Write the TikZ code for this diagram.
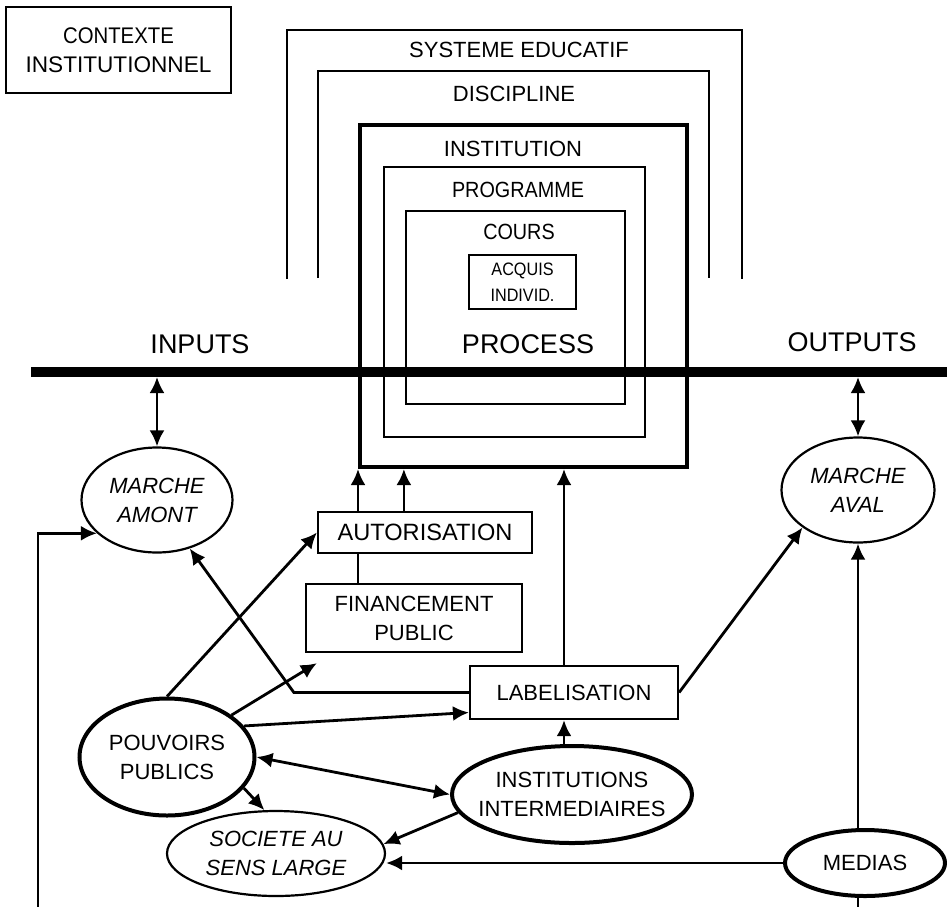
\documentclass[tikz,border=0pt]{standalone}
\usepackage{fontspec}
\setmainfont{Liberation Sans}
\newfontfamily\narrowfont[FakeStretch=0.9]{Liberation Sans}
\usetikzlibrary{arrows.meta,shapes.geometric,positioning}
\tikzset{
	lbl/.style={font=\fontsize{11}{14.5}\selectfont, align=center},
	big/.style={font=\fontsize{13.5}{16}\selectfont},
	itl/.style={font=\fontsize{11}{14.5}\selectfont\itshape, align=center},
	frame/.style={line width=1.1pt},
	boxnode/.style={draw, lbl, line width=1.1pt, inner sep=0pt},
	oval/.style={draw, ellipse, inner sep=-14pt, line width=1.1pt},
	arr/.style={-{Latex[length=8pt,width=7.5pt]}, line width=1.4pt},
	arr2/.style={{Latex[length=8pt,width=7.5pt]}-{Latex[length=8pt,width=7.5pt]}, line width=1.4pt},
	lin/.style={line width=1.2pt}
}
\begin{document}
\begin{tikzpicture}[x=0.5pt, y=-0.5pt]
				\useasboundingbox (0,0) rectangle (947,906);
				\node (ctx) [boxnode, minimum width=112.5pt, minimum height=43pt, font=\fontsize{11.3}{14.5}\selectfont] at (118.5,50) {{\narrowfont CONTEXTE}\\INSTITUTIONNEL};
				\draw[frame] (287,279) |- (742,30) -- (742,279);
				\draw[frame] (318,278) |- (709,71) -- (709,278);
				\node (inst) [draw, line width=2pt, minimum width=163.5pt, minimum height=171pt] at (523.5,296) {};
				\draw[frame] (384,167) rectangle (645,437);
				\draw[frame] (406,211) rectangle (625,404);
				\node (sysl) [lbl] at (519,50) {SYSTEME EDUCATIF};
				\node (discl) [lbl] at (514,94) {DISCIPLINE};
				\node (instl) [lbl] at (513,149) {INSTITUTION};
				\node (progl) [lbl, font=\narrowfont\fontsize{11}{14.5}\selectfont] at (518,190) {PROGRAMME};
				\node (coursl) [lbl, font=\narrowfont\fontsize{11}{14.5}\selectfont] at (519,232) {COURS};
				\node (acq) [boxnode, minimum width=53.5pt, minimum height=27pt, font=\narrowfont\fontsize{9}{13}\selectfont] at (522.5,282) {ACQUIS\\INDIVID.};
				\node (inp) [big] at (200,344) {INPUTS};
				\node (proc) [big] at (528,344) {PROCESS};
				\node (outp) [big] at (852,342) {OUTPUTS};
				\coordinate (barl) at (31,372);
				\coordinate (barr) at (947,372);
				\coordinate (bar) at (0,377);
				\draw[line width=5pt] (barl) -- (barr);
				\node (mam) [oval, itl, minimum width=75.5pt, minimum height=52.5pt] at (157,500) {MARCHE\\AMONT};
				\node (mav) [oval, itl, minimum width=76.5pt, minimum height=52.5pt] at (858,490) {MARCHE\\AVAL};
				\node (aut) [boxnode, minimum width=107pt, minimum height=20.5pt, font=\fontsize{11.8}{14.5}\selectfont] at (425,532.5) {AUTORISATION};
				\node (fin) [boxnode, minimum width=108pt, minimum height=34pt] at (414,618) {FINANCEMENT\\PUBLIC};
				\node (lab) [boxnode, minimum width=104pt, minimum height=26.5pt] at (574,692.5) {LABELISATION};
				\node (pp) [oval, lbl, line width=2pt, minimum width=87.5pt, minimum height=58.5pt] at (167,757) {POUVOIRS\\PUBLICS};
				\node (ii) [oval, lbl, line width=2pt, minimum width=120pt, minimum height=48.5pt] at (572,794.5) {INSTITUTIONS\\INTERMEDIAIRES};
				\node (soc) [oval, itl, minimum width=109pt, minimum height=42.5pt] at (276,853.5) {SOCIETE AU\\SENS LARGE};
				\node (med) [oval, lbl, line width=2pt, minimum width=80pt, minimum height=33pt] at (865,863) {MEDIAS};
				\coordinate (lb) at (38,910);
				\coordinate (mb) at (0,910);
				\draw[arr2] (mam.north |- bar) -- (mam.north);
				\draw[arr2] (mav.north |- bar) -- (mav.north);
				\draw[lin] (fin.north -| inst.south west) -- (aut.south -| inst.south west);
				\draw[arr] (aut.north -| inst.south west) -- (inst.south west);
				\draw[arr] ([xshift=43.5pt]aut.north west) -- ([xshift=43.5pt]aut.north west |- inst.south);
				\draw[arr] ([xshift=-5pt]lab.north) -- ([xshift=-5pt]lab.north |- inst.south);
				\draw[arr] ([xshift=-4pt]ii.north) -- ([xshift=-4pt]ii.north |- lab.south);
				\draw[arr] (lab.west) -- +(-87.5pt,0) -- (mam.-56);
				\draw[arr] (lab.east) -- (mav.214);
				\draw[arr] (pp.north) -- (aut.west);
				\draw[arr] (pp.33) -- ([xshift=6pt,yshift=-5pt]fin.south west);
				\draw[arr] (pp.22) -- ([yshift=-10pt]lab.west);
				\draw[arr2] (pp.east) -- (ii.west);
				\draw[arr] (pp.-22) -- (soc.105);
				\draw[arr] (ii.189) -- (soc.5);
				\draw[arr] (med.west) -- (med.west -| soc.east);
				\draw[arr] (mav.south |- med.north) -- (mav.south);
				\draw[lin] (mav.south |- med.south) -- (mav.south |- mb);
				\draw[arr] (lb) |- (mam.209);
\end{tikzpicture}
\end{document}
